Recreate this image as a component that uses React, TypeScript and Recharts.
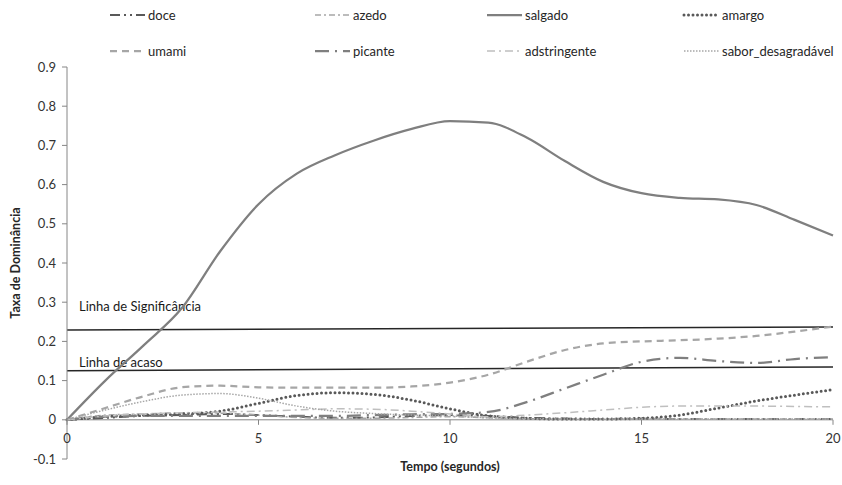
import React from 'react';
import { LineChart, Line, XAxis, YAxis, ReferenceLine, Legend } from 'recharts';

const FONT = 'Lato, "Open Sans", sans-serif';

// ---------- data ----------
const times = [0, 1, 2, 3, 4, 5, 6, 7, 8, 9, 10, 11, 12, 13, 14, 15, 16, 17, 18, 19, 20];
const doce = [0, 0.005, 0.01, 0.012, 0.015, 0.012, 0.008, 0.005, 0.006, 0.01, 0.012, 0.01, 0.005, 0.003, 0.002, 0.003, 0.002, 0.002, 0.002, 0.002, 0.002];
const azedo = [0, 0.012, 0.015, 0.018, 0.017, 0.012, 0.006, 0.004, 0.004, 0.006, 0.008, 0.005, 0.003, 0.002, 0.002, 0.002, 0.002, 0.002, 0.002, 0.002, 0.002];
const salgado = [0, 0.1, 0.19, 0.285, 0.43, 0.55, 0.628, 0.675, 0.712, 0.742, 0.762, 0.758, 0.72, 0.66, 0.607, 0.578, 0.566, 0.562, 0.548, 0.51, 0.47];
const amargo = [0, 0.008, 0.012, 0.015, 0.022, 0.042, 0.062, 0.069, 0.065, 0.05, 0.028, 0.01, 0.004, 0.002, 0.002, 0.004, 0.012, 0.03, 0.048, 0.063, 0.077];
const umami = [0, 0.03, 0.06, 0.083, 0.087, 0.083, 0.082, 0.082, 0.082, 0.085, 0.095, 0.115, 0.148, 0.178, 0.195, 0.2, 0.203, 0.207, 0.214, 0.225, 0.238];
const picante = [0, 0.008, 0.01, 0.01, 0.01, 0.01, 0.01, 0.01, 0.012, 0.014, 0.015, 0.02, 0.045, 0.08, 0.115, 0.148, 0.158, 0.15, 0.145, 0.155, 0.16];
const adstringente = [0, 0.01, 0.015, 0.018, 0.02, 0.022, 0.025, 0.028, 0.027, 0.022, 0.015, 0.008, 0.012, 0.018, 0.025, 0.032, 0.035, 0.035, 0.035, 0.034, 0.033];
const saborDesagradavel = [0, 0.025, 0.047, 0.063, 0.067, 0.055, 0.035, 0.022, 0.016, 0.012, 0.01, 0.005, 0.003, 0.002, 0.002, 0.002, 0.002, 0.002, 0.002, 0.002, 0.002];

const seriesNames = ['doce', 'azedo', 'salgado', 'amargo', 'umami', 'picante', 'adstringente', 'sabor_desagradável'];
const seriesValues = [doce, azedo, salgado, amargo, umami, picante, adstringente, saborDesagradavel];

const xTicks = [0, 5, 10, 15, 20];
const yTicks = [-0.1, 0, 0.1, 0.2, 0.3, 0.4, 0.5, 0.6, 0.7, 0.8, 0.9];

const significanceLine = [{ x: 0, y: 0.229 }, { x: 20, y: 0.237 }];
const chanceLine = [{ x: 0, y: 0.125 }, { x: 20, y: 0.135 }];
const significanceText = 'Linha de Significância';
const chanceText = 'Linha de acaso';

// ---------- table built from arrays ----------
const rows = times.map((t, i) => {
  const r: any = { t };
  seriesNames.forEach((n, k) => { r[n] = seriesValues[k][i]; });
  return r;
});

// ---------- styles ----------
const styles: Record<string, any> = {
  doce: { stroke: '#595959', dash: '10 4 2 4 2 4', width: 2, cap: 'butt' },
  azedo: { stroke: '#a6a6a6', dash: '6 3 2 3', width: 1.5, cap: 'butt' },
  salgado: { stroke: '#7f7f7f', dash: undefined, width: 2.25, cap: 'butt' },
  amargo: { stroke: '#595959', dash: '0 4.5', width: 3, cap: 'round' },
  umami: { stroke: '#a6a6a6', dash: '7 5', width: 2.25, cap: 'butt' },
  picante: { stroke: '#7f7f7f', dash: '14 6 2 6', width: 2.25, cap: 'butt' },
  adstringente: { stroke: '#bfbfbf', dash: '8 4 2 4', width: 1.5, cap: 'butt' },
  'sabor_desagradável': { stroke: '#a6a6a6', dash: '1.5 1.5', width: 1.5, cap: 'butt' },
};

const legendTextX = [148, 353, 525, 722];
const legendRowY = [15, 51];

function LegendContent() {
  return (
    <svg width={842} height={70} style={{ display: 'block' }}>
      {seriesNames.map((n, i) => {
        const col = i % 4;
        const row = Math.floor(i / 4);
        const tx = legendTextX[col];
        const y = legendRowY[row];
        const s = styles[n];
        return (
          <g key={n}>
            <line x1={tx - 38} x2={tx - 3} y1={y} y2={y} stroke={s.stroke} strokeWidth={s.width}
              strokeDasharray={s.dash} strokeLinecap={s.cap} />
            <text x={tx} y={y + 5} fontFamily={FONT} fontSize={13} fill="#262626">{n}</text>
          </g>
        );
      })}
    </svg>
  );
}

const ZERO_OFFSET = 39.2; // distance from plot bottom (-0.1) to the 0 line

function XTick(props: any) {
  const { x, y, payload } = props;
  const zy = y - ZERO_OFFSET;
  return (
    <g>
      <line x1={x} x2={x} y1={zy} y2={zy + 5} stroke="#868686" strokeWidth={1} />
      <text x={x} y={zy + 23} textAnchor="middle" fontFamily={FONT} fontSize={13} fill="#333">{payload.value}</text>
    </g>
  );
}

function YTitle(props: any) {
  const vb = props.viewBox || { x: 0, y: 67, width: 67, height: 392 };
  const cy = vb.y + vb.height / 2;
  return (
    <text x={20} y={cy} transform={`rotate(-90, 20, ${cy})`} textAnchor="middle" fontFamily={FONT}
      fontSize={12.5} fontWeight="bold" fill="#262626">Taxa de Dominância</text>
  );
}

function XTitle(props: any) {
  const vb = props.viewBox || { x: 67, y: 459, width: 766, height: 26 };
  return (
    <text x={vb.x + vb.width / 2} y={471} textAnchor="middle" fontFamily={FONT}
      fontSize={12.5} fontWeight="bold" fill="#262626">Tempo (segundos)</text>
  );
}

function LineLabel(props: any) {
  const vb = props.viewBox || { x: 67, y: 0 };
  return (
    <text x={vb.x + 12} y={vb.y + props.dy} fontFamily={FONT} fontSize={13} fill="#1a1a1a">{props.text}</text>
  );
}

export default function App() {
  return (
    <div style={{ position: 'absolute', left: 0, top: 0, width: 842, height: 485, background: '#fff' }}>
      <LineChart width={842} height={485} data={rows} margin={{ top: 67, right: 9, bottom: 0, left: 0 }}>
        <XAxis dataKey="t" type="number" domain={[0, 20]} ticks={xTicks} interval={0} height={26}
          axisLine={false} tickLine={false} tickSize={0} tickMargin={0} tick={<XTick />}
          label={<XTitle />} />
        <YAxis type="number" domain={[-0.1, 0.9]} ticks={yTicks} interval={0} width={67}
          axisLine={{ stroke: '#868686' }} tickLine={{ stroke: '#868686' }} tickSize={5} tickMargin={6}
          tick={{ fontFamily: FONT, fontSize: 13, fill: '#333' }} label={<YTitle />} />
        <ReferenceLine y={0} stroke="#868686" strokeWidth={1} />
        <ReferenceLine segment={significanceLine} stroke="#262626" strokeWidth={1.5}
          label={<LineLabel text={significanceText} dy={-16} />} />
        <ReferenceLine segment={chanceLine} stroke="#262626" strokeWidth={1.5}
          label={<LineLabel text={chanceText} dy={0} />} />
        {seriesNames.map((n) => {
          const s = styles[n];
          return (
            <Line key={n} dataKey={n} type="monotone" stroke={s.stroke} strokeWidth={s.width}
              strokeDasharray={s.dash} strokeLinecap={s.cap} dot={false} activeDot={false}
              isAnimationActive={false} />
          );
        })}
        <Legend layout="vertical" align="center" verticalAlign="middle" content={<LegendContent />}
          wrapperStyle={{ position: 'absolute', top: 0, left: 0, width: 842, height: 70 }} />
      </LineChart>
    </div>
  );
}
